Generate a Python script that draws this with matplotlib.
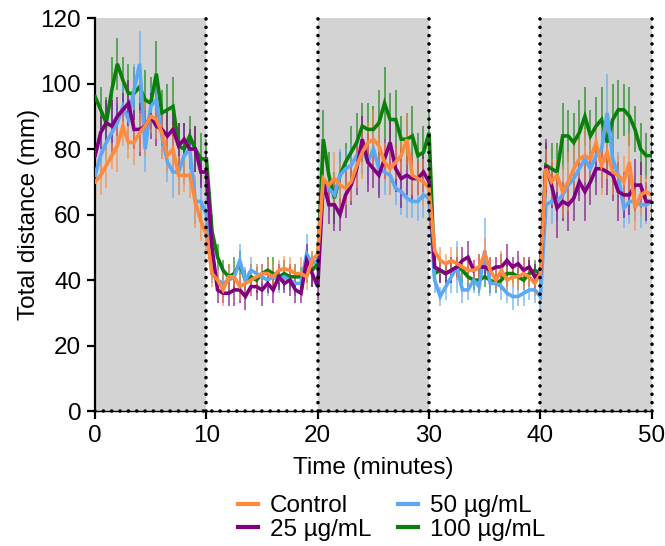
import numpy as np
import matplotlib
matplotlib.use("Agg")
import matplotlib.pyplot as plt
from matplotlib.lines import Line2D

plt.rcParams['font.family'] = ['Liberation Sans', 'DejaVu Sans']

time_min = np.arange(0, 50.5, 0.5)

control = [70, 72, 75, 78, 81, 87, 82, 82, 85, 87, 90, 89, 85, 78, 80, 72, 72, 72, 64, 58, 54,
           42, 40, 37, 41, 41, 38, 39, 40, 41, 42, 42, 41, 43, 43.5, 43, 42, 42, 41, 46, 48,
           71, 69, 71, 69, 68, 70, 75, 79, 82, 83, 81, 76, 74, 76, 78, 83, 72, 71, 70, 68,
           49, 46, 45, 46, 45, 44, 43, 43, 44, 48, 43, 40, 43, 40, 41, 41, 42, 41, 39, 42,
           74, 70, 72, 67, 70, 74, 77, 78, 77, 82, 75, 79, 73, 72, 70, 76, 62, 66, 67, 66]
dose25 = [78, 85, 88, 87, 90, 92, 94, 86, 86, 87, 90, 87, 86, 84, 86, 81, 83, 80, 80, 73, 73,
          50, 37, 36, 36, 37, 37, 35, 38, 38, 37, 39, 37, 41, 39, 40, 37, 36, 46, 42, 38,
          70, 63, 63, 60, 66, 69, 74, 83, 76, 74, 72, 77, 82, 74, 71, 72, 71, 71, 73, 70,
          44, 43, 42, 43, 44, 46, 47, 43, 44, 44, 43, 44, 44, 46, 44, 45, 43, 44, 41, 42,
          75, 69, 62, 64, 63, 65, 70, 67, 70, 74, 74, 73, 72, 67, 66, 66, 69, 69, 64, 64]
dose50 = [72, 78, 82, 85, 88, 93, 89, 98, 106, 80, 93, 95, 84, 76, 73, 73, 78, 80, 64, 64, 60,
          42, 40, 39, 40, 41, 46, 40, 43, 42, 41, 40, 41, 40, 41, 40, 39, 39, 48, 45, 46,
          70, 68, 66, 72, 74, 75, 78, 80, 76, 80, 74, 73, 72, 68, 67, 65, 64, 64, 66, 65,
          40, 35, 38, 41, 44, 37, 37, 40, 38, 49, 39, 39, 38, 36, 35, 35, 36, 37, 37, 35,
          63, 64, 64, 66, 69, 71, 74, 77, 74, 78, 80, 91, 77, 72, 62, 64, 64, 63, 63, 64]
dose100 = [96, 92, 88, 98, 106, 101, 97, 97, 99, 95, 94, 103, 91, 92, 93, 81, 80, 84, 80, 77, 77,
           55, 47, 43, 41, 42, 45, 40, 41, 40, 42, 43, 42, 41, 42, 41, 41, 41, 43, 43, 45,
           83, 72, 65, 72, 76, 79, 82, 87, 86, 86, 88, 94, 89, 89, 83, 83, 84, 78, 79, 85,
           42, 43, 42, 43, 44, 43, 41, 40, 40, 41, 40, 39, 40, 42, 42, 41, 40, 42, 43, 42,
           75, 74, 73, 84, 84, 82, 85, 90, 84, 87, 89, 82, 89, 92, 92, 90, 86, 80, 78, 78]

control_err = [5, 6, 7, 4, 8, 6, 5, 7, 6, 9, 5, 6, 8, 5, 7, 6, 5, 7, 8, 6, 5,
               4, 3, 5, 4, 3, 4, 3, 5, 4, 3, 4, 4, 3, 4, 4, 3, 5, 4, 3, 5,
               6, 5, 8, 7, 5, 6, 7, 8, 6, 9, 7, 6, 8, 5, 7, 8, 6, 5, 7, 6,
               5, 4, 3, 4, 5, 3, 4, 3, 4, 5, 4, 3, 6, 4, 3, 4, 5, 3, 4, 4,
               6, 7, 5, 8, 9, 7, 6, 8, 7, 6, 9, 8, 7, 6, 8, 9, 7, 6, 5, 6]
dose25_err = [6, 5, 7, 8, 6, 5, 7, 6, 8, 5, 7, 6, 5, 8, 6, 7, 5, 6, 7, 5, 6,
              4, 4, 3, 4, 5, 4, 4, 3, 4, 5, 3, 4, 4, 3, 5, 4, 3, 5, 4, 4,
              7, 6, 8, 5, 7, 6, 8, 7, 9, 6, 7, 6, 8, 7, 9, 6, 7, 5, 6, 7,
              3, 4, 3, 4, 3, 4, 5, 3, 4, 3, 4, 3, 4, 5, 3, 4, 4, 3, 4, 3,
              8, 7, 9, 6, 8, 7, 6, 9, 7, 8, 6, 7, 8, 9, 7, 6, 8, 7, 6, 5]
dose50_err = [6, 7, 5, 8, 6, 7, 9, 8, 10, 7, 6, 8, 7, 6, 8, 7, 9, 6, 7, 6, 5,
              3, 4, 3, 4, 3, 5, 4, 4, 3, 4, 5, 3, 4, 4, 3, 4, 3, 6, 4, 5,
              6, 7, 5, 8, 6, 7, 6, 8, 7, 6, 8, 7, 6, 5, 7, 6, 5, 6, 7, 5,
              4, 3, 4, 5, 8, 4, 3, 4, 3, 10, 4, 3, 4, 3, 4, 3, 4, 3, 4, 4,
              6, 7, 6, 8, 7, 6, 8, 7, 6, 8, 7, 12, 8, 7, 6, 7, 6, 7, 6, 5]
dose100_err = [9, 7, 8, 10, 8, 7, 9, 8, 7, 9, 8, 10, 7, 8, 9, 7, 8, 6, 7, 8, 6,
               5, 4, 3, 4, 5, 4, 3, 4, 4, 3, 4, 5, 3, 4, 3, 4, 3, 4, 5, 4,
               9, 7, 8, 7, 6, 8, 9, 7, 8, 7, 10, 11, 8, 9, 7, 8, 9, 7, 8, 7,
               3, 4, 3, 4, 3, 4, 3, 3, 4, 3, 4, 3, 3, 4, 3, 4, 3, 4, 3, 4,
               7, 8, 9, 10, 8, 9, 10, 9, 8, 9, 10, 9, 11, 9, 8, 9, 7, 8, 7, 6]

labels = ['Control', '25 µg/mL', '50 µg/mL', '100 µg/mL']
colors = ['#FF8A3D', '#800080', '#5BA8F5', '#0A800A']

fig = plt.figure(figsize=(6.65, 5.46), dpi=100)
ax = fig.add_axes([0.143, 0.247, 0.837, 0.72])

for x0 in (0, 20, 40):
    ax.axvspan(x0, x0 + 10, ymin=0, ymax=1, color='#D3D3D3', lw=0, zorder=0)

series = [(dose100, dose100_err, colors[3]), (dose50, dose50_err, colors[2]),
          (dose25, dose25_err, colors[1]), (control, control_err, colors[0])]
for vals, err, c in series:
    ax.errorbar(time_min, vals, yerr=err, fmt='none', ecolor=c, elinewidth=1.3,
                alpha=0.65, capsize=0, zorder=2)
for vals, err, c in series:
    ax.plot(time_min, vals, color=c, lw=2.6, zorder=3, solid_joinstyle='miter')

for xv in (10, 20, 30, 40, 50):
    ax.plot([xv, xv], [0, 120], color='black', lw=2.6, linestyle=(0, (0.01, 2.3)),
            dash_capstyle='round', zorder=4, clip_on=False)
ax.plot([0, 50], [0, 0], color='black', lw=2.6, linestyle=(0, (0.01, 2.3)),
        dash_capstyle='round', zorder=4, clip_on=False)

ax.set_xlim(0, 50)
ax.set_ylim(0, 120)
ax.set_xticks([0, 10, 20, 30, 40, 50])
ax.set_yticks([0, 20, 40, 60, 80, 100, 120])
for s in ('top', 'right'):
    ax.spines[s].set_visible(False)
ax.spines['left'].set_linewidth(1.6)
ax.spines['bottom'].set_linewidth(1.0)
ax.tick_params(axis='both', direction='out', length=6, width=1.6, labelsize=17.5, pad=4)
ax.set_xlabel('Time (minutes)', fontsize=17.5, labelpad=7)
ax.set_ylabel('Total distance (mm)', fontsize=17.5, labelpad=0)
ax.set_facecolor('white')

handles = [Line2D([], [], color=c, lw=3) for c in colors]
fig.legend(handles, labels, ncol=2, loc='upper center', bbox_to_anchor=(0.589, 0.115),
           frameon=False, fontsize=17.5, handlelength=0.8, handletextpad=0.5,
           columnspacing=1.1, labelspacing=0.05, borderpad=0)

fig.savefig('out.png', dpi=100)
